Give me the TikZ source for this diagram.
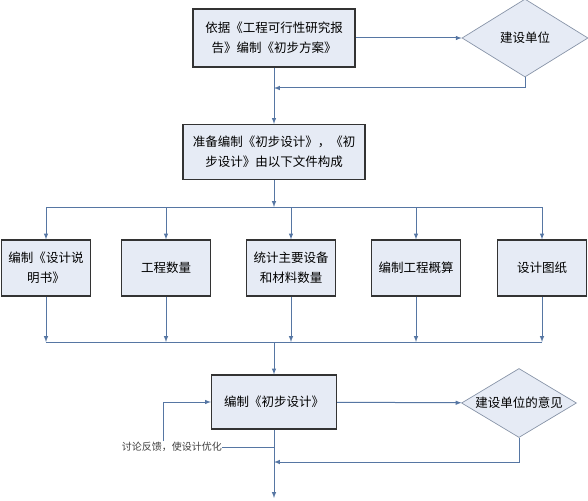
\documentclass[tikz,border=0pt]{standalone}
\usepackage{fontspec}
\setmainfont{Noto Sans CJK SC}
\usetikzlibrary{arrows,positioning,shapes.geometric}

\definecolor{boxblue}{HTML}{E6EBF5}
\definecolor{linkblue}{HTML}{5676A3}
\definecolor{rimgray}{HTML}{8894A8}

\tikzset{
  box/.style={draw=black!80, line width=1.2pt, fill=boxblue, align=center,
    inner sep=2pt, font=\fontsize{12.5}{20}\selectfont},
  choice/.style={diamond, draw=rimgray, line width=0.7pt, fill=boxblue,
    inner sep=0pt, aspect=1.6, font=\fontsize{12.5}{15}\selectfont},
  flow/.style={draw=linkblue, line width=1pt, -latex},
  link/.style={draw=linkblue, line width=1pt},
}

\begin{document}
\begin{tikzpicture}[x=1pt, y=-1pt]

\useasboundingbox (0,0) rectangle (588,500);

\node[box, minimum width=162, minimum height=58] (plan) at (274,38)
  {依据《工程可行性研究报\\告》编制《初步方案》};
\node[choice, minimum width=126, minimum height=78] (unit) at (525,38) {建设单位};

\node[box, minimum width=182, minimum height=55] (prep) at (274,152)
  {准备编制《初步设计》，《初\\步设计》由以下文件构成};

\node[box, minimum width=89, minimum height=56] (b1) at (46,268) {编制《设计说\\明书》};
\node[box, minimum width=89, minimum height=56] (b2) at (166,268) {工程数量};
\node[box, minimum width=89, minimum height=56] (b3) at (291,268) {统计主要设备\\和材料数量};
\node[box, minimum width=89, minimum height=56] (b4) at (416,268) {编制工程概算};
\node[box, minimum width=89, minimum height=56] (b5) at (542,268) {设计图纸};

\node[box, minimum width=125, minimum height=54] (draft) at (274,402) {编制《初步设计》};
\node[choice, minimum width=115, minimum height=69] (advice) at (519,403) {建设单位的意见};

\node[anchor=east, inner sep=0pt, font=\fontsize{10}{12}\selectfont,
  text=black!75] (talk) at (222,447) {讨论反馈，使设计优化};

\coordinate (back1) at (274,88);
\coordinate (split) at (274,207);
\coordinate (merge) at (274,342);
\coordinate (back2) at (274,462);
\coordinate (fbk) at (163,441);
\coordinate (out) at (274,498);

% first stage
\draw[flow] (plan) -- (unit);
\draw[flow] (plan) -- (prep);
\draw[flow] (unit.south) |- (back1);

% split into the five parts
\draw[flow] (prep) -- (split);
\draw[link] (b1 |- split) -- (b5 |- split);
\foreach \b in {b1,b2,b3,b4,b5} {
  \draw[flow] (\b |- split) -- (\b);
  \draw[flow] (\b) -- (\b |- merge);
}
\draw[link] (b1 |- merge) -- (b5 |- merge);
\draw[flow] (merge) -- (draft);

% review loop
\draw[flow] (draft) -- (advice);
\draw[flow] (advice.south) |- (back2);
\draw[link] (talk.east) -- (talk.east -| draft);
\draw[flow] (fbk) |- (draft.west);
\draw[flow] (draft) -- (out);

\end{tikzpicture}
\end{document}
